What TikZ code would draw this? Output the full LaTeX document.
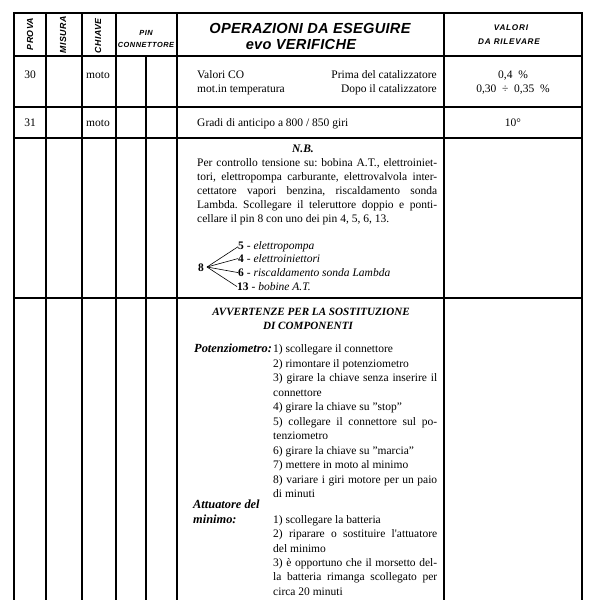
\documentclass[tikz,border=0pt]{standalone}
\usepackage{fontspec}
\setmainfont{Liberation Serif}
\setsansfont{Liberation Sans}
\frenchspacing
\begin{document}
\begin{tikzpicture}[x=1pt,y=-1pt,
  grid/.style={line width=1.2pt, line cap=rect},
  fan/.style={line width=0.6pt},
  tx/.style={font=\fontsize{11.5}{14}\selectfont, inner sep=0pt, anchor=base west},
  txc/.style={tx, anchor=base},
  txe/.style={tx, anchor=base east},
  bi/.style={tx, font=\bfseries\itshape\fontsize{11.5}{14}\selectfont},
  bic/.style={bi, anchor=base},
  lbl/.style={tx, font=\bfseries\itshape\fontsize{12.4}{14}\selectfont},
  rot/.style={font=\sffamily\bfseries\itshape\fontsize{8.8}{10}\selectfont\addfontfeatures{LetterSpace=5}, inner sep=0pt, rotate=90},
  hsm/.style={font=\sffamily\bfseries\itshape\fontsize{7.4}{9}\selectfont\addfontfeatures{LetterSpace=7}, inner sep=0pt, anchor=base},
  hval/.style={font=\sffamily\bfseries\itshape\fontsize{8.2}{9}\selectfont\addfontfeatures{LetterSpace=9}, inner sep=0pt, anchor=base},
  hbig/.style={font=\sffamily\bfseries\itshape\fontsize{14.6}{16}\selectfont\addfontfeatures{LetterSpace=2}, inner sep=0pt, anchor=base}
]
\useasboundingbox[fill=white] (0,0) rectangle (600,600);

% ---- grid ----
\foreach \yy in {13,56,107,138,298} \draw[grid] (14,\yy) -- (582,\yy);
\foreach \xx in {14,46,82,116,177,444,582} \draw[grid] (\xx,13) -- (\xx,601);
\draw[grid] (146,56) -- (146,601);

% ---- header ----
\node[rot] (hprova) at (30,34) {PROVA};
\node[rot] (hmisura) at (63,35) {MISURA};
\node[rot] (hchiave) at (98,36) {CHIAVE};
\node[hsm] (hpin) at (146,35) {PIN};
\node[hsm] (hconn) at (146,47.5) {CONNETTORE};
\node[hbig] (hop1) at (310,33) {OPERAZIONI DA ESEGUIRE};
\node[hbig] (hop2) at (301,49) {evo VERIFICHE};
\node[hval] (hval1) at (511,30) {VALORI};
\node[hval] (hval2) at (509,44) {DA RILEVARE};

% ---- row 30 ----
\node[txc] (r30) at (30,78) {30};
\node[txc] (r30k) at (98,78) {moto};
\node[tx] (r30a) at (197,78) {Valori CO};
\node[tx] (r30b) at (197,92) {mot.in temperatura};
\node[txe] (r30c) at (437,78) {Prima del catalizzatore};
\node[txe] (r30d) at (437,92) {Dopo il catalizzatore};
\node[txc] (r30e) at (513,78) {0,4~~\%};
\node[txc] (r30f) at (513,92) {0,30~~÷~~0,35~~\%};

% ---- row 31 ----
\node[txc] (r31) at (30,126) {31};
\node[txc] (r31k) at (98,126) {moto};
\node[tx] (r31a) at (197,126) {Gradi di anticipo a 800 / 850 giri};
\node[txc] (r31b) at (513,126) {10°};

% ---- N.B. ----
\node[bic] (nb) at (303,152) {N.B.};
\node[tx] (nb1) at (197,166.5) {\makebox[240pt][s]{Per controllo tensione su: bobina A.T., elettroiniet-}};
\node[tx] (nb2) at (197,180.5) {\makebox[240pt][s]{tori, elettropompa carburante, elettrovalvola inter-}};
\node[tx] (nb3) at (197,194.5) {\makebox[240pt][s]{cettatore vapori benzina, riscaldamento sonda}};
\node[tx] (nb4) at (197,208.5) {\makebox[240pt][s]{Lambda. Scollegare il teleruttore doppio e ponti-}};
\node[tx] (nb5) at (197,222.5) {cellare il pin 8 con uno dei pin 4, 5, 6, 13.};

% ---- fan ----
\node[tx, anchor=base, font=\bfseries\fontsize{11.5}{14}\selectfont] (eight) at (201,271) {8};
\coordinate (fc) at (207,267);
\node[tx] (f5) at (238,249.5) {\textbf{5} - \textit{elettropompa}};
\node[tx] (f4) at (238,262.5) {\textbf{4} - \textit{elettroiniettori}};
\node[tx] (f6) at (238,276.5) {\textbf{6} - \textit{riscaldamento sonda Lambda}};
\node[tx] (f13) at (237,290.5) {\textbf{13} - \textit{bobine A.T.}};
\foreach \t in {f5,f4,f6,f13} \draw[fan] (fc) -- (\t.west);

% ---- avvertenze ----
\node[bic, font=\bfseries\itshape\fontsize{11.1}{14}\selectfont] (av1) at (311,315) {AVVERTENZE PER LA SOSTITUZIONE};
\node[bic, font=\bfseries\itshape\fontsize{11.1}{14}\selectfont] (av2) at (308,329) {DI COMPONENTI};

\node[lbl] (pot) at (194,352.5) {Potenziometro:};
\node[tx] (p1) at (273,352.5) {1) scollegare il connettore};
\node[tx] (p2) at (273,367) {2) rimontare il potenziometro};
\node[tx] (p3) at (273,381.5) {\makebox[164pt][s]{3) girare la chiave senza inserire il}};
\node[tx] (p3b) at (273,396) {connettore};
\node[tx] (p4) at (273,410.5) {4) girare la chiave su "stop"};
\node[tx] (p5) at (273,425) {\makebox[164pt][s]{5) collegare il connettore sul po-}};
\node[tx] (p5b) at (273,439.5) {tenziometro};
\node[tx] (p6) at (273,454) {6) girare la chiave su "marcia"};
\node[tx] (p7) at (273,468.5) {7) mettere in moto al minimo};
\node[tx] (p8) at (273,483) {\makebox[164pt][s]{8) variare i giri motore per un paio}};
\node[tx] (p8b) at (273,497.5) {di minuti};

\node[lbl] (att1) at (193,508.5) {Attuatore del};
\node[lbl] (att2) at (193,523) {minimo:};
\node[tx] (a1) at (273,523.5) {1) scollegare la batteria};
\node[tx] (a2) at (273,537.8) {\makebox[164pt][s]{2) riparare o sostituire l\textquotesingle attuatore}};
\node[tx] (a2b) at (273,552.1) {del minimo};
\node[tx] (a3) at (273,566.4) {\makebox[164pt][s]{3) è opportuno che il morsetto del-}};
\node[tx] (a3b) at (273,580.7) {\makebox[164pt][s]{la batteria rimanga scollegato per}};
\node[tx] (a3c) at (273,595) {circa 20 minuti};
\end{tikzpicture}
\end{document}
